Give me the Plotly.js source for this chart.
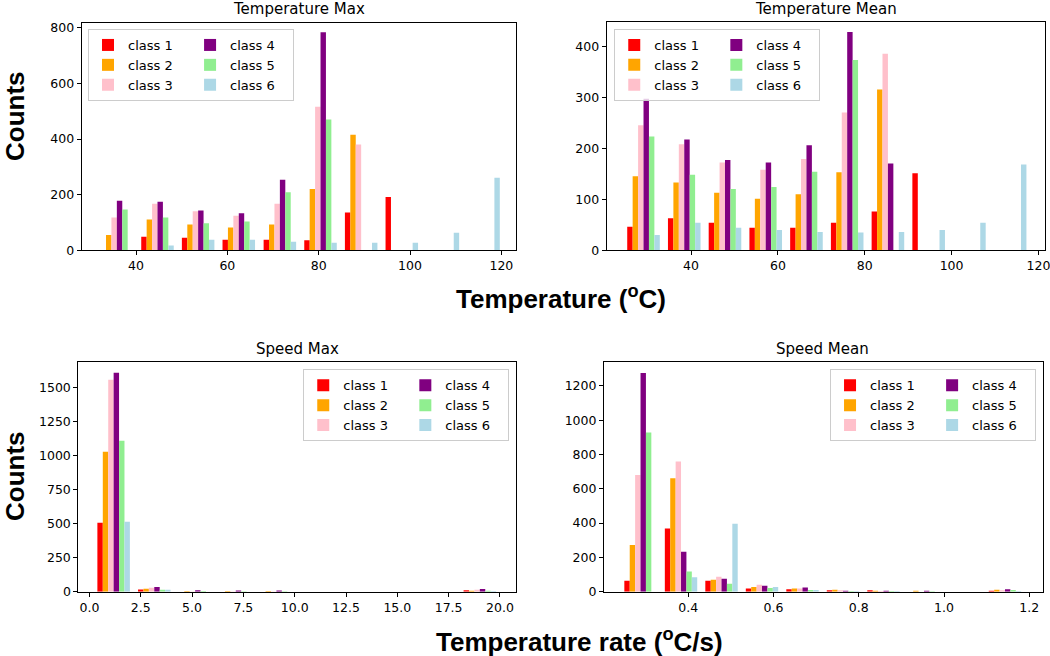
<!DOCTYPE html>
<html>
<head>
<meta charset="utf-8">
<script src="https://cdn.plot.ly/plotly-3.0.1.min.js"></script>
<style>
  html, body { margin: 0; padding: 0; background: #fff; }
  #chart { width: 1050px; height: 656px; }
</style>
</head>
<body>
<div id="chart"></div>
<script>
// class names and colours
var classNames = ['class 1', 'class 2', 'class 3', 'class 4', 'class 5', 'class 6'];
var classColors = ['#ff0000', '#ffa500', '#ffc0cb', '#800080', '#90ee90', '#add8e6'];

// Temperature Max: bin centres and counts (one row per class)
var tempMaxBins = [35.8, 44.7, 53.6, 62.5, 71.5, 80.4, 89.3, 98.2, 107.2, 116.1];
var tempMaxCounts = [
  [0, 49, 45, 38, 38, 36, 136, 192, 0, 0],
  [55, 111, 93, 82, 93, 220, 415, 0, 0, 0],
  [118, 167, 140, 124, 167, 516, 380, 0, 0, 0],
  [178, 175, 143, 133, 254, 784, 0, 0, 0, 0],
  [147, 118, 97, 104, 209, 470, 0, 0, 0, 0],
  [0, 17, 38, 38, 31, 27, 27, 27, 63, 261]
];

// Temperature Mean
var tempMeanBins = [29.06, 38.44, 47.82, 57.2, 66.58, 75.96, 85.34, 94.72, 104.1, 113.48];
var tempMeanCounts = [
  [46, 63, 54, 44, 44, 54, 76, 151, 0, 0],
  [145, 133, 113, 101, 110, 153, 315, 0, 0, 0],
  [245, 208, 172, 158, 179, 270, 385, 0, 0, 0],
  [297, 217, 177, 172, 206, 428, 170, 0, 0, 0],
  [223, 148, 120, 124, 154, 373, 0, 0, 0, 0],
  [30, 54, 44, 40, 36, 35, 36, 40, 54, 168]
];

// Speed Max
var speedMaxBins = [1.18, 3.16, 5.15, 7.13, 9.11, 11.09, 13.08, 15.06, 17.04, 19.02];
var speedMaxCounts = [
  [506, 17, 0, 0, 0, 0, 0, 0, 0, 10],
  [1027, 22, 5, 5, 5, 0, 0, 0, 0, 7],
  [1555, 29, 2, 2, 2, 0, 0, 0, 0, 15],
  [1606, 34, 10, 8, 8, 0, 0, 0, 0, 20],
  [1108, 15, 5, 4, 4, 0, 0, 0, 0, 7],
  [513, 15, 0, 0, 0, 0, 0, 0, 0, 5]
];

// Speed Mean
var speedMeanBins = [0.288, 0.383, 0.478, 0.573, 0.668, 0.763, 0.858, 0.953, 1.048, 1.143];
var speedMeanCounts = [
  [64, 369, 64, 19, 14, 8, 8, 0, 0, 6],
  [272, 662, 70, 28, 19, 12, 6, 6, 0, 12],
  [680, 759, 87, 40, 19, 8, 4, 0, 0, 8],
  [1274, 233, 76, 35, 25, 6, 6, 6, 0, 14],
  [928, 118, 47, 22, 10, 4, 4, 2, 0, 10],
  [0, 85, 396, 27, 10, 4, 4, 0, 0, 4]
];

var panels = [
  {bins: tempMaxBins, counts: tempMaxCounts, xa: 'x', ya: 'y', legend: 'legend'},
  {bins: tempMeanBins, counts: tempMeanCounts, xa: 'x2', ya: 'y2', legend: 'legend2'},
  {bins: speedMaxBins, counts: speedMaxCounts, xa: 'x3', ya: 'y3', legend: 'legend3'},
  {bins: speedMeanBins, counts: speedMeanCounts, xa: 'x4', ya: 'y4', legend: 'legend4'}
];

// pad legend labels a little so the two columns sit as wide as matplotlib's
var pad = '\u00a0\u00a0\u00a0';

var data = [];
panels.forEach(function(p) {
  for (var i = 0; i < 6; i++) {
    data.push({
      type: 'bar',
      x: p.bins,
      y: p.counts[i],
      name: classNames[i] + pad,
      xaxis: p.xa,
      yaxis: p.ya,
      legend: p.legend,
      legendgroup: p.legend + (i < 3 ? 'a' : 'b'),
      marker: {color: classColors[i], line: {width: 0}},
      hoverinfo: 'x+y+name'
    });
  }
});

var tickFont = {family: 'DejaVu Sans', size: 12.5, color: '#000'};

function axis(extra) {
  var a = {
    showgrid: false,
    zeroline: false,
    showline: true,
    mirror: true,
    linecolor: '#000',
    linewidth: 1,
    ticks: 'outside',
    ticklen: 4,
    tickwidth: 1,
    tickcolor: '#000',
    tickfont: tickFont,
    ticklabeloverflow: 'allow'
  };
  for (var k in extra) a[k] = extra[k];
  return a;
}

function legendBox(x, y, xanchor) {
  return {
    x: x, y: y, xanchor: xanchor, yanchor: 'top',
    orientation: 'h',
    traceorder: 'grouped',
    bgcolor: 'rgba(255,255,255,0.8)',
    bordercolor: '#cccccc',
    borderwidth: 1,
    font: {family: 'DejaVu Sans', size: 13, color: '#000'}
  };
}

var bold = {family: 'Liberation Sans', size: 26, color: '#000', weight: 'bold'};
var titleFont = {family: 'DejaVu Sans', size: 15, color: '#000'};

var layout = {
  width: 1050,
  height: 656,
  margin: {l: 0, r: 0, t: 0, b: 0},
  paper_bgcolor: '#fff',
  plot_bgcolor: '#fff',
  barmode: 'group',
  bargap: 0.2,
  bargroupgap: 0,
  xaxis: axis({domain: [0.0778, 0.4914], range: [28.1, 123.2], anchor: 'y', tickvals: [40, 60, 80, 100, 120]}),
  yaxis: axis({domain: [0.6184, 0.9654], range: [0, 818], anchor: 'x', dtick: 200}),
  xaxis2: axis({domain: [0.5778, 0.9952], range: [20.58, 121.5], anchor: 'y2', tickvals: [40, 60, 80, 100, 120]}),
  yaxis2: axis({domain: [0.6184, 0.9669], range: [0, 448], anchor: 'x2', dtick: 100}),
  xaxis3: axis({domain: [0.0746, 0.4914], range: [-0.54, 20.78], anchor: 'y3', dtick: 2.5, tick0: 0, tickformat: '.1f'}),
  yaxis3: axis({domain: [0.098, 0.4477], range: [0, 1683], anchor: 'x3', dtick: 250}),
  xaxis4: axis({domain: [0.5752, 0.9930], range: [0.2022, 1.2314], anchor: 'y4', dtick: 0.2, tick0: 0, tickformat: '.1f'}),
  yaxis4: axis({domain: [0.098, 0.4477], range: [0, 1337], anchor: 'x4', dtick: 200}),
  legend: legendBox(0.0838, 0.9558, 'left'),
  legend2: legendBox(0.585, 0.9558, 'left'),
  legend3: legendBox(0.485, 0.437, 'right'),
  legend4: legendBox(0.9867, 0.437, 'right'),
  annotations: [
    {text: 'Temperature Max', x: 0.2848, y: 1 - 9 / 656},
    {text: 'Temperature Mean', x: 0.7866, y: 1 - 9 / 656},
    {text: 'Speed Max', x: 0.2829, y: 1 - 349 / 656},
    {text: 'Speed Mean', x: 0.7838, y: 1 - 349 / 656}
  ].map(function(a) {
    a.xref = 'paper'; a.yref = 'paper'; a.showarrow = false;
    a.xanchor = 'center'; a.yanchor = 'middle'; a.font = titleFont;
    return a;
  }).concat([
    {text: 'Counts', x: 15 / 1050, y: 1 - 116 / 656, textangle: -90},
    {text: 'Counts', x: 15 / 1050, y: 1 - 476 / 656, textangle: -90},
    {text: 'Temperature (<sup>o</sup>C)', x: 561 / 1050, y: 1 - 297 / 656},
    {text: 'Temperature rate (<sup>o</sup>C/s)', x: 579 / 1050, y: 1 - 640 / 656}
  ].map(function(a) {
    a.xref = 'paper'; a.yref = 'paper'; a.showarrow = false;
    a.xanchor = 'center'; a.yanchor = 'middle'; a.font = bold;
    return a;
  }))
};

Plotly.newPlot('chart', data, layout, {displayModeBar: false, staticPlot: true});
</script>
</body>
</html>
